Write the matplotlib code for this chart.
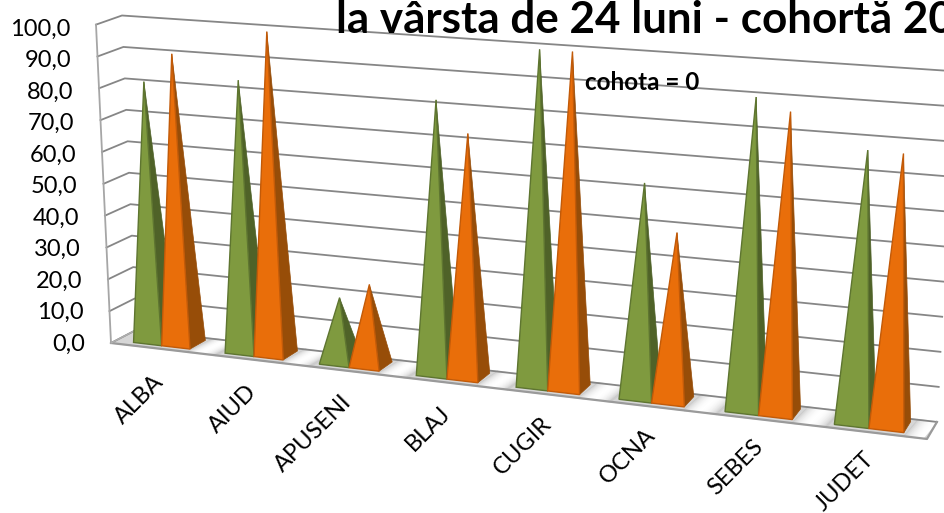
import numpy as np
import matplotlib
matplotlib.use('Agg')
import matplotlib.pyplot as plt

plt.rcParams['font.family'] = ['Lato', 'DejaVu Sans']

categorii = ['ALBA', 'AIUD', 'APUSENI', 'BLAJ', 'CUGIR', 'OCNA', 'SEBES', 'JUDET']
valori_verde = [81.7, 84.4, 20.1, 83.0, 100.4, 63.3, 90.9, 78.1]
valori_portocaliu = [91.1, 100.1, 25.1, 73.6, 100.4, 49.6, 87.4, 77.9]
ticks_y = [0, 10, 20, 30, 40, 50, 60, 70, 80, 90, 100]
titlu = 'la vârsta de 24 luni - cohortă 20'
nota = 'cohota = 0'

U_END = 8.036


# proiectia "3D" a graficului: u = categorie, w = adancime, v = valoare
def punct(u, w, v=0):
    x = (111 + 88.56 * u) / (1 - 0.014 * u)
    y = 343 + (x - 111) * 0.1176
    t = (x - 111) / 816
    x_p = x + w * (25 - 15 * t)
    y_p = y - w * (13 + 4 * t)
    lean = -0.15 + (x_p - 111) * 0.32 / 816
    scale = 3.145 + 0.000452 * (x_p - 136) + (1 - w) * 0.05
    return x_p + lean * v, y_p - scale * v


def piramida(ax, u0, u1, v, c_fata, c_lat, c_margine):
    w0, w1 = 0.2, 0.85
    fl = punct(u0, w0)
    fr = punct(u1, w0)
    br = punct(u1, w1)
    apex = punct((u0 + u1) / 2 + 0.025, 0.4, v)
    ax.fill(*zip(fr, br, apex), color=c_lat, lw=0.5, zorder=3)
    ax.fill(*zip(fl, fr, apex), facecolor=c_fata, edgecolor=c_margine, lw=1.0, zorder=3)


fig = plt.figure(figsize=(9.44, 5.13), dpi=100)
ax = fig.add_axes([0, 0, 1, 1])
ax.set_xlim(0, 944)
ax.set_ylim(513, 0)
ax.axis('off')

# podeaua, gri cu benzi deschise intre grupuri
ax.fill(*zip(punct(0, 0), punct(U_END, 0), punct(U_END, 1), punct(0, 1)), color='#d6d6d6', zorder=1)
for i in range(len(categorii)):
    start = i + 0.82
    for t in np.linspace(0, 1, 24):
        u = start + 0.02 + t * 0.30
        if u + 0.03 > U_END:
            continue
        nuanta = 0.80 + 0.2 * np.sin(np.pi * t) ** 0.7
        ax.plot(*zip(punct(u, 0.03), punct(u + 0.03, 0.97)), color=str(nuanta), lw=1.6, zorder=1)

# liniile de grila si peretele din stanga
for v in ticks_y:
    ax.plot(*zip(punct(0, 0, v), punct(0, 1, v), punct(U_END, 1, v)), color='#868686', lw=1.3, zorder=2)
    x_f, _ = punct(0, 0, v)
    ax.text(x_f - 26, 344 - 3.15 * v, f'{v:.1f}'.replace('.', ','), ha='right', va='center', fontsize=17, color='black')
ax.plot(*zip(punct(0, 0, 0), punct(0, 0, 100)), color='#a6a6a6', lw=1.3, zorder=2)
ax.plot(*zip(punct(0, 0), punct(U_END, 0), punct(U_END, 1)), color='#9a9a9a', lw=1.6, zorder=2)
ax.plot(*zip(punct(0, 0), punct(0, 1)), color='#b0b0b0', lw=1.0, zorder=2)

# piramidele
for i, nume in enumerate(categorii):
    piramida(ax, i + 0.195, i + 0.505, valori_verde[i], '#7F9A3F', '#4F6228', '#5E7530')
    piramida(ax, i + 0.505, i + 0.815, valori_portocaliu[i], '#E96E0A', '#974D08', '#C25A08')
    x_l, y_l = punct(i + 0.55, 0)
    ax.text(x_l - 1, y_l + 29.5 - i * 0.9, nume, rotation=45, rotation_mode='anchor', ha='right', va='center',
            fontsize=17, color='black')

ax.text(336, 33, titlu, fontsize=31.7, fontweight='bold', color='black', ha='left', va='baseline', zorder=5)
ax.text(585, 82, nota, fontsize=17.5, fontweight='bold', color='black', ha='left', va='center', zorder=5)

fig.savefig('out.png', dpi=100)
